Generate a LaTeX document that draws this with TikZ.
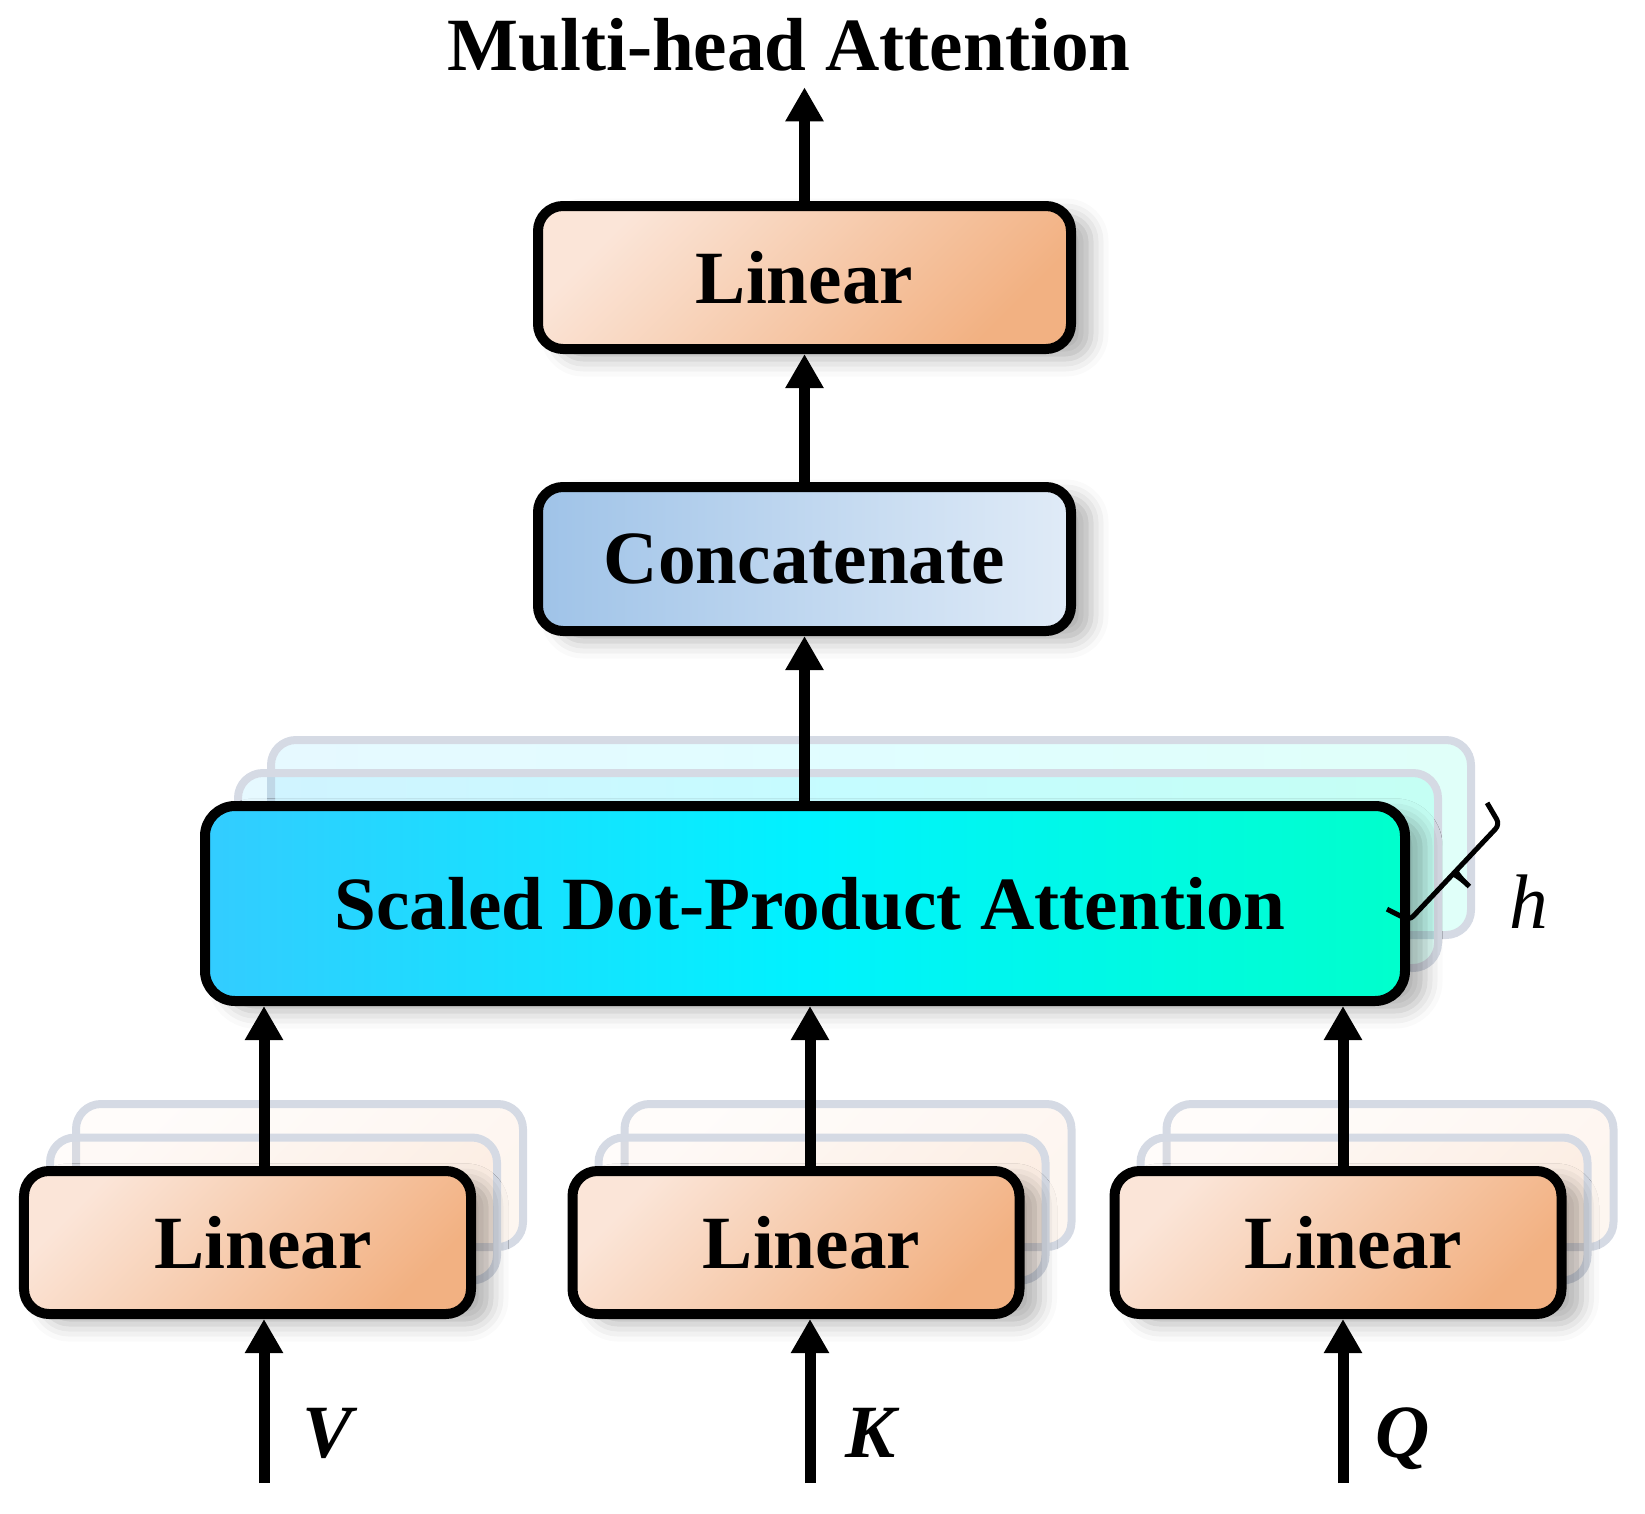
\documentclass[tikz,border=0pt]{standalone}
\usepackage{fontspec}
\setmainfont{Liberation Serif}
\usetikzlibrary{positioning,calc,arrows.meta,shadows.blur}

\definecolor{linA}{HTML}{FBE5D8}
\definecolor{linB}{HTML}{F2B182}
\definecolor{catA}{HTML}{9FC3E8}
\definecolor{catB}{HTML}{E0EBF7}
\definecolor{sdpL}{HTML}{33CCFF}
\definecolor{sdpM}{HTML}{00F2FF}
\definecolor{sdpR}{HTML}{00FFCC}
\definecolor{ghostline}{HTML}{D5DAE4}

\tikzset{
  bigfont/.style={font=\fontsize{42.8}{50}\selectfont\bfseries},
  box/.style={draw, line width=0.2cm, rounded corners=0.5cm, bigfont, inner sep=0pt,
    blur shadow={shadow xshift=0.4cm, shadow yshift=-0.2cm, shadow blur radius=0.35cm, shadow opacity=30}},
  linbox/.style={box, minimum height=2.86cm, left color=linA, right color=linB, shading angle=45},
  ghost/.style={draw=ghostline, line width=0.16cm, rounded corners=0.5cm, inner sep=0pt},
  arr/.style={line width=0.22cm, -{Triangle[length=0.68cm,width=0.72cm]}},
}

\begin{document}
\begin{tikzpicture}
    \useasboundingbox (0,0) rectangle (32.9,-30.28);
    \node[bigfont, anchor=base, inner sep=0.3cm] (title) at (15.78,-1.42) {Multi-head Attention};
    \node[linbox, minimum width=10.66cm] (linT) at (16.09,-5.55) {Linear};
    \node[box, minimum width=10.66cm, minimum height=2.88cm, left color=catA, right color=catB] (cat) at (16.09,-11.18) {Concatenate};
    \foreach \k in {2,1}{
      \node[ghost, minimum width=24cm, minimum height=3.9cm, left color=sdpL, right color=sdpR, middle color=sdpM,
        fill opacity=0.12, shift={(\k*0.66,\k*0.66)}] (sdp\k) at (16.1,-18.07) {};
    }
    \node[box, minimum width=24cm, minimum height=3.9cm, rounded corners=0.6cm,
      left color=sdpL, right color=sdpR, middle color=sdpM] (sdp) at (16.1,-18.07) {\hspace*{0.2cm}Scaled Dot-Product Attention};
    \foreach \nm/\x in {linV/4.95, linK/15.92, linQ/26.76}{
      \foreach \k in {2,1}{
        \node[ghost, minimum width=8.94cm, minimum height=2.86cm, left color=linA, right color=linB, shading angle=45,
          fill opacity=0.12, shift={(\k*0.52,\k*0.67)}] (\nm\k) at (\x,-24.85) {};
      }
      \node[linbox, minimum width=8.94cm] (\nm) at (\x,-24.85) {\hspace*{0.62cm}Linear};
    }
    \draw[arr] (linT) -- (linT.north |- title.south);
    \draw[arr] (cat) -- (linT);
    \draw[arr] (sdp.north -| cat) -- (cat.south);
    \foreach \nm/\x/\lab/\lx in {linV/5.28/V/6.55, linK/16.2/K/17.42, linQ/26.86/Q/28.06}{
      \coordinate (in\lab) at (\x,-29.66);
      \draw[arr] (in\lab) -- (in\lab |- \nm.south);
      \draw[arr] (in\lab |- \nm.north) -- (in\lab |- sdp.south);
      \node[anchor=base, font=\fontsize{42.8}{50}\selectfont\bfseries\itshape] (lab\lab) at (\lx,-29.14) {\lab};
    }
    \coordinate (brM) at (28.74,-17.12);
    \begin{scope}[shift={(brM)}, rotate=46.7]
      \draw[line width=0.1cm, rounded corners=0.12cm]
        (-1.46,0) -- (-1.32,-0.48) -- (-0.16,-0.48) .. controls (-0.04,-0.48) and (0,-0.6) .. (0,-0.96)
        .. controls (0,-0.6) and (0.04,-0.48) .. (0.16,-0.48) -- (1.32,-0.48) -- (1.46,0);
    \end{scope}
    \node[anchor=base, font=\fontsize{44}{50}\selectfont\itshape] (hlab) at (30.58,-18.56) {h};
\end{tikzpicture}
\end{document}
